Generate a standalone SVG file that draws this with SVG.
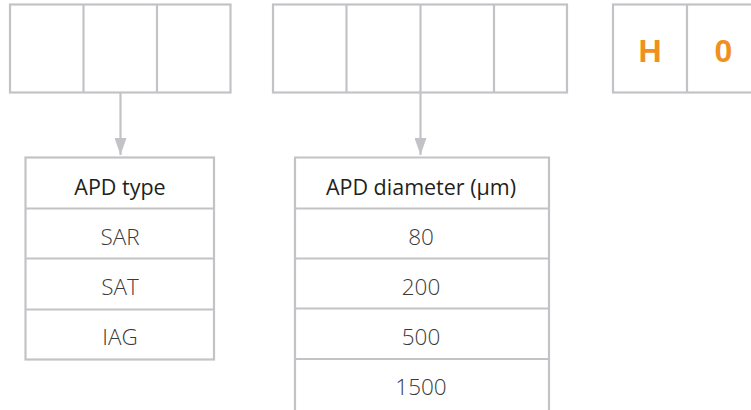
<svg xmlns="http://www.w3.org/2000/svg" width="751" height="410" viewBox="0 0 751 410">
<style>
.box{fill:#fff;stroke:#c3c3c7;stroke-width:2.2}
.ln{stroke:#c3c3c7;stroke-width:2.2;fill:none}
.hd{font-family:"Open Sans",Lato,"Liberation Sans",sans-serif;font-weight:400;font-size:21.5px;fill:#231f20;text-anchor:middle}
.vl{font-family:"Open Sans",Lato,"Liberation Sans",sans-serif;font-weight:300;font-size:22.5px;fill:#3a3a3a;text-anchor:middle}
.code{font-family:"Liberation Sans",Arial,sans-serif;font-weight:bold;font-size:32px;fill:#f0901e;text-anchor:middle}
</style>
<defs>
<marker id="ah" markerWidth="17" markerHeight="12" refX="17" refY="6" orient="auto" markerUnits="userSpaceOnUse" viewBox="0 0 17 12">
<path d="M0,0 L17,6 L0,12 Z" fill="#c3c3c7"/>
</marker>
</defs>
<g id="code-group-1">
<rect class="box" x="10" y="4.5" width="220.5" height="88"/>
<line class="ln" x1="83.5" y1="4.5" x2="83.5" y2="92.5"/>
<line class="ln" x1="157" y1="4.5" x2="157" y2="92.5"/>
</g>
<g id="code-group-2">
<rect class="box" x="273" y="4.5" width="294" height="88"/>
<line class="ln" x1="346.5" y1="4.5" x2="346.5" y2="92.5"/>
<line class="ln" x1="420.5" y1="4.5" x2="420.5" y2="92.5"/>
<line class="ln" x1="494" y1="4.5" x2="494" y2="92.5"/>
</g>
<g id="code-group-3">
<rect class="box" x="613" y="4.5" width="150" height="88"/>
<line class="ln" x1="687" y1="4.5" x2="687" y2="92.5"/>
<text class="code" x="650" y="61.5">H</text>
<text class="code" x="723.5" y="61.5">0</text>
</g>
<g id="connectors">
<line class="ln" x1="120.5" y1="93" x2="120.5" y2="155" marker-end="url(#ah)"/>
<line class="ln" x1="420.5" y1="93" x2="420.5" y2="155" marker-end="url(#ah)"/>
</g>
<g id="apd-type-table">
<rect class="box" x="25.5" y="157.5" width="188.5" height="202"/>
<line class="ln" x1="25.5" y1="208.5" x2="214" y2="208.5"/>
<line class="ln" x1="25.5" y1="258.5" x2="214" y2="258.5"/>
<line class="ln" x1="25.5" y1="309.5" x2="214" y2="309.5"/>
<text class="hd" x="120" y="194.5">APD type</text>
<text class="vl" x="120" y="245">SAR</text>
<text class="vl" x="120" y="295">SAT</text>
<text class="vl" x="120" y="345">IAG</text>
</g>
<g id="apd-diameter-table">
<path class="ln" d="M295,420 V157.5 H549 V420"/>
<line class="ln" x1="295" y1="208.5" x2="549" y2="208.5"/>
<line class="ln" x1="295" y1="258.5" x2="549" y2="258.5"/>
<line class="ln" x1="295" y1="308.5" x2="549" y2="308.5"/>
<line class="ln" x1="295" y1="359" x2="549" y2="359"/>
<text class="hd" x="421" y="194.5">APD diameter (μm)</text>
<text class="vl" x="421" y="245">80</text>
<text class="vl" x="421" y="295">200</text>
<text class="vl" x="421" y="345">500</text>
<text class="vl" x="421" y="395">1500</text>
</g>
</svg>
